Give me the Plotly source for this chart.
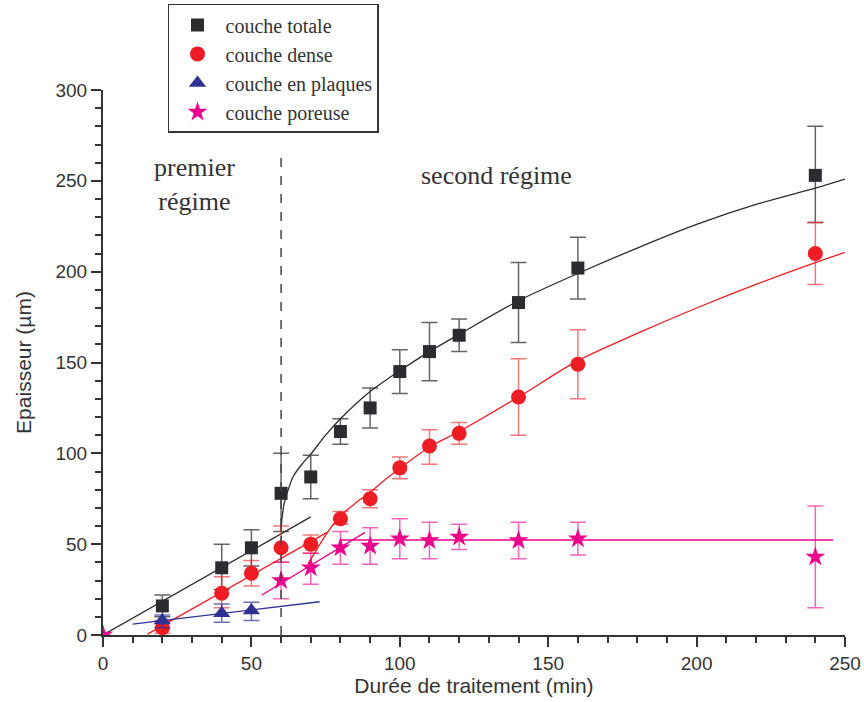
import plotly.graph_objects as go

# ---- data ----
x_tot = [20, 40, 50, 60, 70, 80, 90, 100, 110, 120, 140, 160, 240]
y_tot = [16, 37, 48, 78, 87, 112, 125, 145, 156, 165, 183, 202, 253]
hi_tot = [22, 50, 58, 100, 99, 119, 136, 157, 172, 174, 205, 219, 280]
lo_tot = [10, 25, 38, 57, 75, 105, 114, 133, 140, 156, 161, 185, 227]

x_den = [20, 40, 50, 60, 70, 80, 90, 100, 110, 120, 140, 160, 240]
y_den = [4, 23, 34, 48, 50, 64, 75, 92, 104, 111, 131, 149, 210]
hi_den = [8, 32, 41, 60, 55, 68, 80, 98, 113, 117, 152, 168, 227]
lo_den = [1, 15, 27, 40, 45, 61, 70, 86, 94, 105, 110, 130, 193]

x_pla = [20, 40, 50]
y_pla = [8, 12, 13.5]
hi_pla = [11, 17, 18]
lo_pla = [4, 7, 8]

x_por = [0, 60, 70, 80, 90, 100, 110, 120, 140, 160, 240]
y_por = [0, 30, 37, 48, 49, 53, 52, 54, 52, 53, 43]
hi_por = [0, 40, 45, 57, 59, 64, 62, 61, 62, 62, 71]
lo_por = [0, 20, 28, 39, 39, 42, 42, 47, 42, 44, 15]

# fitted lines
fit_tot_lin_x = [0, 70]
fit_tot_lin_y = [0, 65]
fit_tot_cur_x = [60, 60.3, 61, 62, 64, 67, 70, 75, 80, 90, 100, 110, 120, 140, 160, 180, 200, 220, 240, 250]
fit_tot_cur_y = [57, 64, 72, 78, 87, 94, 99.5, 110, 119, 134, 145.5, 156, 165.5, 184, 199, 213, 226, 237, 246, 251]

fit_den_lin_x = [15, 75.5]
fit_den_lin_y = [0.5, 56.5]
fit_den_cur_x = [69, 72, 75, 80, 85, 90, 95, 100, 110, 120, 140, 160, 180, 200, 220, 240, 250]
fit_den_cur_y = [39, 47, 55, 65.5, 72.5, 78.5, 85.5, 91.7, 103.5, 112, 131, 151, 166, 180, 193, 205, 210.6]

fit_pla_x = [10, 73]
fit_pla_y = [6, 18.3]

fit_por_lin_x = [53.5, 88.3]
fit_por_lin_y = [22, 56.5]
fit_por_flat_x = [80, 246]
fit_por_flat_y = [52.3, 52.3]

regime_limit = 60
regime_top = 263

# ---- styles ----
C_TOT = '#2b2b30'
C_DEN = '#ee1c24'
C_PLA = '#2e3192'
C_POR = '#ec008c'

def err(hi, lo, y, color):
    return dict(type='data', symmetric=False,
                array=[h - v for h, v in zip(hi, y)],
                arrayminus=[v - l for l, v in zip(lo, y)],
                color=color, thickness=1.5, width=8)

fig = go.Figure()

def fit(x, y, color, shape='linear'):
    fig.add_trace(go.Scatter(x=x, y=y, mode='lines', showlegend=False, hoverinfo='skip',
                             line=dict(color=color, width=1.3, shape=shape,
                                       smoothing=0.8 if shape == 'spline' else None)))

fit(fit_tot_lin_x, fit_tot_lin_y, C_TOT)
fit(fit_tot_cur_x, fit_tot_cur_y, C_TOT, 'spline')
fit(fit_den_lin_x, fit_den_lin_y, C_DEN)
fit(fit_den_cur_x, fit_den_cur_y, C_DEN, 'spline')
fit(fit_pla_x, fit_pla_y, C_PLA)
fit(fit_por_lin_x, fit_por_lin_y, C_POR)
fit(fit_por_flat_x, fit_por_flat_y, C_POR)

fig.add_trace(go.Scatter(x=x_tot, y=y_tot, mode='markers', name='couche totale',
                         marker=dict(symbol='square', size=13, color=C_TOT),
                         error_y=err(hi_tot, lo_tot, y_tot, 'rgba(50,50,55,0.75)')))
fig.add_trace(go.Scatter(x=x_den, y=y_den, mode='markers', name='couche dense',
                         marker=dict(symbol='circle', size=15, color=C_DEN),
                         error_y=err(hi_den, lo_den, y_den, 'rgba(238,28,36,0.6)')))
fig.add_trace(go.Scatter(x=x_pla, y=y_pla, mode='markers', name='couche en plaques',
                         marker=dict(symbol='triangle-up', size=15, color=C_PLA),
                         error_y=err(hi_pla, lo_pla, y_pla, 'rgba(46,49,146,0.7)')))
fig.add_trace(go.Scatter(x=x_por, y=y_por, mode='markers', name='couche poreuse',
                         marker=dict(symbol='star', size=15, color=C_POR),
                         error_y=err(hi_por, lo_por, y_por, 'rgba(236,0,140,0.6)')))

fig.add_shape(type='line', xref='x', yref='y', x0=regime_limit, x1=regime_limit,
              y0=0, y1=regime_top, line=dict(color='#444', width=1.5, dash='dash'))

ann_font = dict(family='Liberation Serif, Times New Roman, serif', size=26, color='#333')
fig.add_annotation(x=30.7, y=248, xref='x', yref='y', text='premier<br>régime',
                   showarrow=False, font=ann_font)
fig.add_annotation(x=132.7, y=253, xref='x', yref='y', text='second régime',
                   showarrow=False, font=ann_font)

axis_common = dict(showline=True, linecolor='#333', linewidth=2, ticks='outside',
                   ticklen=10, tickwidth=2, tickcolor='#333', showgrid=False, zeroline=False,
                   ticklabelstandoff=0,
                   tickfont=dict(family='Liberation Sans, Arial, sans-serif', size=19, color='#333'),
                   minor=dict(ticks='outside', ticklen=6, tickwidth=2, tickcolor='#333', dtick=10))

fig.update_xaxes(range=[0, 250], dtick=50, tick0=0, **axis_common,
                 title=dict(text='Durée de traitement (min)', standoff=4,
                            font=dict(family='Liberation Sans, Arial, sans-serif', size=21, color='#333')))
fig.update_yaxes(range=[0, 300], dtick=50, tick0=0, **axis_common,
                 title=dict(text='Epaisseur (µm)', standoff=18,
                            font=dict(family='Liberation Sans, Arial, sans-serif', size=21, color='#333')))

fig.update_layout(
    width=864, height=702,
    margin=dict(l=103, r=19, t=90, b=67, autoexpand=False),
    paper_bgcolor='white', plot_bgcolor='white',
    legend=dict(x=0.0876, y=1.158, xanchor='left', yanchor='top',
                bgcolor='white', bordercolor='#333', borderwidth=1.5,
                font=dict(family='Liberation Serif, Times New Roman, serif', size=20, color='#333'),
                tracegroupgap=0, itemwidth=46),
)

fig.write_html('out.html', config={'displayModeBar': False},
               post_script="document.body.style.margin='0';")
